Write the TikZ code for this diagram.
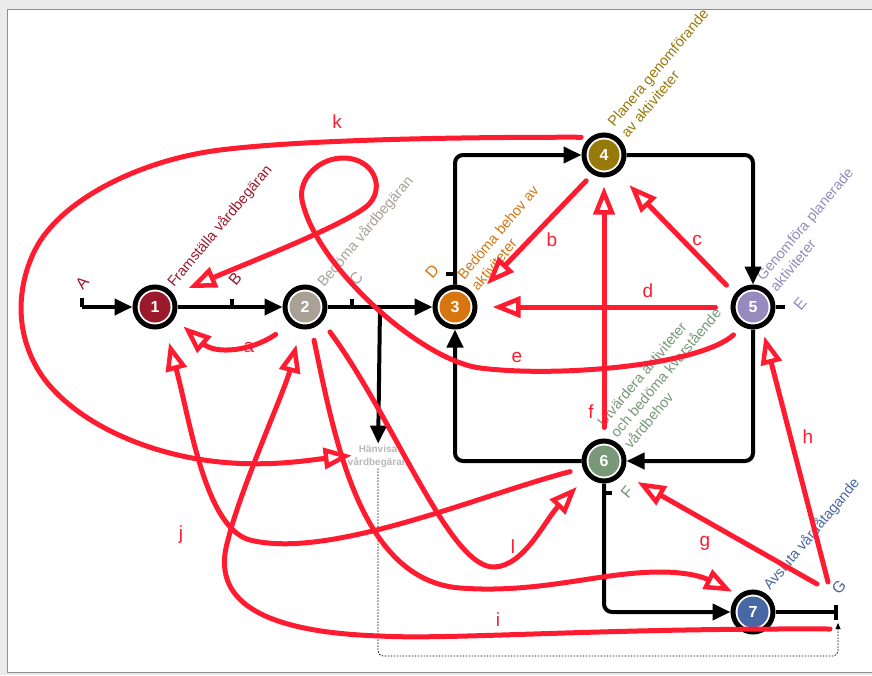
\documentclass[tikz,border=0pt]{standalone}
\usepackage{fontspec}
\setmainfont{Liberation Sans}
\usetikzlibrary{arrows.meta,positioning}
\definecolor{c1}{HTML}{9A1A2C}
\definecolor{c2}{HTML}{A9A196}
\definecolor{c3}{HTML}{D77610}
\definecolor{c4}{HTML}{977A0A}
\definecolor{c5}{HTML}{958BBE}
\definecolor{c6}{HTML}{789878}
\definecolor{c7}{HTML}{4768A4}
\definecolor{flowred}{HTML}{FF1C31}
\definecolor{hvgrey}{HTML}{B9B9B9}
\definecolor{winbg}{HTML}{EBEBEB}
\definecolor{framegrey}{HTML}{8E8E8E}
\tikzset{proc/.style={circle, draw=black, line width=5pt, fill=white, minimum size=40pt, inner sep=0pt, text=white, font=\fontsize{16}{16}\selectfont\bfseries, path picture={\fill[#1] (path picture bounding box.center) circle[radius=15.5pt];}}}
\tikzstyle{line} = [draw=black, line width=4pt, rounded corners=8pt, -{Triangle[length=18pt,width=16pt]}]
\tikzstyle{tick} = [draw=black, line width=4pt]
\tikzstyle{refline} = [draw=black, line width=0.8pt, dash pattern=on 1.5pt off 1.5pt, rounded corners=5pt, -{Triangle[length=6pt,width=5pt]}]
\tikzstyle{flow} = [draw=flowred, line width=5pt, line cap=round, -{Triangle[open,length=28pt,width=21pt,line width=4.5pt]}]
\tikzstyle{desc} = [inner sep=0pt, rotate=50, align=left, font=\fontsize{14.5}{17.5}\selectfont]
\tikzstyle{ptlabel} = [inner sep=0pt, rotate=50, font=\fontsize{16}{16}\selectfont]
\tikzstyle{flowlabel} = [text=flowred, inner sep=0pt, font=\fontsize{19}{20}\selectfont]

\begin{document}
\begin{tikzpicture}[x=1pt,y=-1pt]
	\useasboundingbox (0,0) rectangle (872,675);
	\fill[winbg] (0,0) rectangle (872,675);
	\filldraw[fill=white, draw=framegrey, line width=1pt] (7,9) rectangle (885,672);

	\node[proc=c1] (n1) at (155,307) {1};
	\node[proc=c2, right of=n1, node distance=150pt] (n2) {2};
	\node[proc=c3, right of=n2, node distance=150pt] (n3) {3};
	\node[proc=c5, right of=n3, node distance=298pt] (n5) {5};
	\node[proc=c4] (n4) at (604,155) {4};
	\node[proc=c6, below of=n4, node distance=306pt] (n6) {6};
	\node[proc=c7, below of=n5, node distance=305pt] (n7) {7};
	\node[font=\fontsize{10}{13}\selectfont\bfseries, text=hvgrey, align=center, inner sep=1pt] (refer) at (378,456) {Hänvisa\\vårdbegäran};

	\node[desc, text=c1, anchor=base west] (t1) at (174,288) {Framställa vårdbegäran};
	\node[desc, text=c2, anchor=base west] (t2) at (324,288) {Bedöma vårdbegäran};
	\node[desc, text=c3, anchor=south west] (t3) at (478,292) {Bedöma behov av\\aktiviteter};
	\node[desc, text=c4, anchor=south west] (t4) at (628,139) {Planera genomförande\\av aktiviteter};
	\node[desc, text=c5, anchor=south west] (t5) at (777,293) {Genomföra planerade\\aktiviteter};
	\node[desc, text=c6, anchor=south west] (t6) at (631,450) {Utvärdera aktiviteter\\och bedöma kvarstående\\vårdbehov};
	\node[desc, text=c7, anchor=base west] (t7) at (770,591) {Avsluta vårdåtagande};

	\node[ptlabel, text=c1] (lA) at (82,283) {A};
	\node[ptlabel, text=c1] (lB) at (235,279) {B};
	\node[ptlabel, text=c2] (lC) at (356,279) {C};
	\node[ptlabel, text=c3] (lD) at (432,272) {D};
	\node[ptlabel, text=c5] (lE) at (800,304) {E};
	\node[ptlabel, text=c6] (lF) at (627,492) {F};
	\node[ptlabel, text=c7] (lG) at (839,587) {G};

	\coordinate (a0) at (82,307);
	\coordinate (jn) at (380,307);
	\coordinate (gEnd) at (838,612);
	\coordinate (tB) at (232,307);
	\coordinate (tC) at (352,307);
	\coordinate (tD) at (454,274);
	\coordinate (tF) at (604,493);
	\coordinate (dotC) at (600,656);
	\coordinate (gsrc) at (817,584);
	\coordinate (hsrc) at (828,582);
	\coordinate (isrc) at (830,629);

	% main flow
	\path[line] (a0) -- (n1);
	\path[line] (n1) -- (n2);
	\path[line] (n2) -- (n3);
	\path[line] (jn) -- (refer);
	\path[line] (n3) |- (n4);
	\path[line] (n4) -| (n5);
	\path[line] (n5) |- (n6);
	\path[line] (n6) -| (n3);
	\path[line] (n6) |- (n7);
	\path[line, -{Bar[width=15pt]}] (n7) -- (gEnd);
	\path[refline, shorten >=11pt] (refer.south) |- (dotC) -| (gEnd);

	\path[tick] (a0) -- ++(0,-9);
	\path[tick] (tB) -- ++(0,-8);
	\path[tick] (tC) -- ++(0,-8);
	\path[tick] (tD) -- ++(-8,0);
	\path[tick] (n5.east) -- ++(9,0);
	\path[tick] (tF) -- ++(8,0);

	% feedback
	\path[flow, shorten <=18pt, shorten >=12pt] (n2.230) .. controls (250,352) and (215,354) .. (n1.-31);
	\path[flow, shorten <=9pt, shorten >=17pt] (n4.239) -- (n3.27);
	\path[flow, shorten <=12pt, shorten >=17pt] (n5.144) -- (n4.-53);
	\path[flow, shorten <=15pt, shorten >=15pt] (n5.west) -- (n3.east);
	\path[flow, shorten <=12pt, shorten >=16pt] (n5.242) .. controls (700,365) and (560,378) .. (480,368) .. controls (420,360) and (315,265) .. (302,200) .. controls (298,178) and (320,157) .. (345,158) .. controls (372,159) and (385,185) .. (370,203) .. controls (355,221) and (250,262) .. (n1.34);
	\path[flow, shorten <=11pt, shorten >=9pt] (n6.north) -- (n4.south);
	\path[flow, shorten >=17pt] (gsrc) -- (n6.-34);
	\path[flow, shorten >=9pt] (hsrc) -- (n5.-66);
	\path[flow, shorten >=16pt] (isrc) .. controls (600,628) and (450,640) .. (380,636) .. controls (260,632) and (210,600) .. (228,540) .. controls (240,490) and (285,390) .. (n2.258);
	\path[flow, shorten <=13pt, shorten >=16pt] (n6.199) .. controls (480,495) and (330,560) .. (250,540) .. controls (205,528) and (190,420) .. (n1.296);
	\path[flow, shorten <=9pt, shorten >=-5pt] (n4.128) .. controls (450,137) and (300,140) .. (220,150) .. controls (140,160) and (60,200) .. (35,250) .. controls (15,290) and (15,340) .. (45,380) .. controls (80,425) and (150,455) .. (220,462) .. controls (270,467) and (310,460) .. (refer.west);
	\path[flow, shorten <=13pt, shorten >=15pt] (n2.-40) .. controls (395,420) and (450,570) .. (495,567) .. controls (525,565) and (545,520) .. (n6.222);
	\path[flow, shorten <=12pt, shorten >=7pt] (n2.-73) .. controls (335,440) and (360,580) .. (460,588) .. controls (540,594) and (600,572) .. (660,572) .. controls (690,572) and (705,578) .. (n7.130);

	\node[flowlabel] (la) at (249,347) {a};
	\node[flowlabel] (lb) at (552,240) {b};
	\node[flowlabel] (lc) at (697,240) {c};
	\node[flowlabel] (ld) at (648,291) {d};
	\node[flowlabel] (le) at (517,357) {e};
	\node[flowlabel] (lf) at (591,412) {f};
	\node[flowlabel] (lg) at (705,543) {g};
	\node[flowlabel] (lh) at (808,437) {h};
	\node[flowlabel] (li) at (498,620) {i};
	\node[flowlabel] (lj) at (181,535) {j};
	\node[flowlabel] (lk) at (337,122) {k};
	\node[flowlabel] (ll) at (513,547) {l};
\end{tikzpicture}
\end{document}
